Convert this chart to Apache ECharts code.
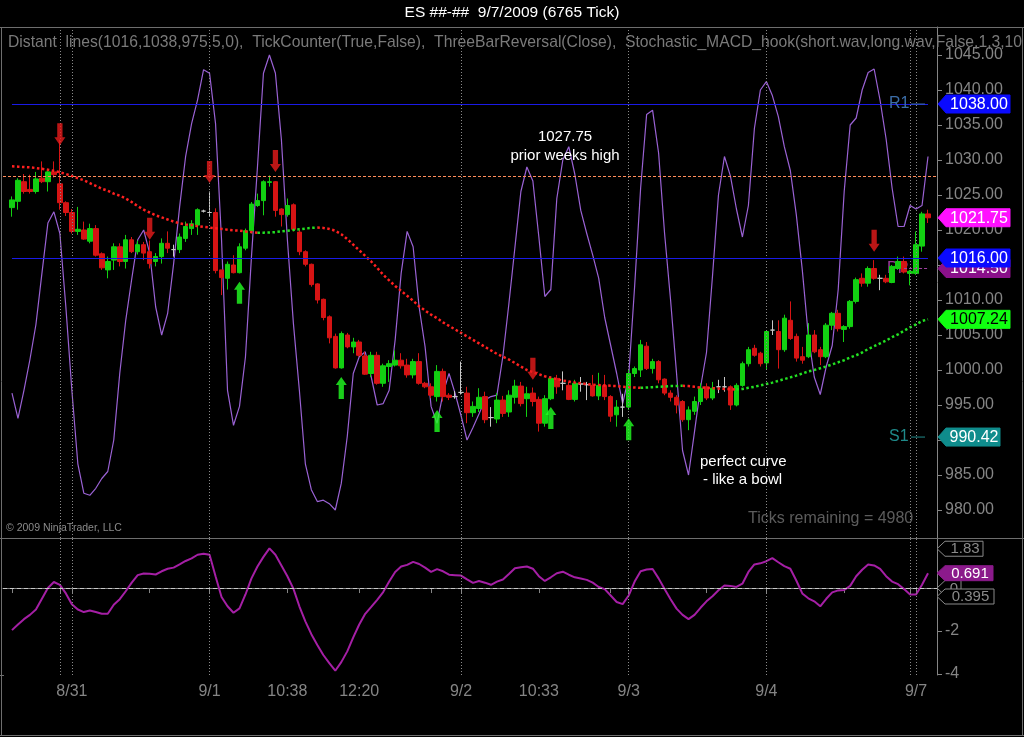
<!DOCTYPE html>
<html>
<head>
<meta charset="utf-8">
<script src="https://cdn.jsdelivr.net/npm/echarts@6/dist/echarts.min.js"></script>
<style>
html,body{margin:0;padding:0;background:#000;overflow:hidden;}
#chart{width:1024px;height:737px;}
</style>
</head>
<body>
<div id="chart"></div>
<script>
const FONT = "'Liberation Sans', Arial, sans-serif";
const SLOT_COUNT = 156;

// candles: [open, close, low, high], slots 1..154
const candles = [
[1023.2,1024.3,1021.9,1024.8],[1024.1,1027.1,1022.9,1027.4],[1026.9,1025.5,1025.2,1028.0],[1025.8,1025.5,1025.2,1027.9],
[1025.5,1027.3,1025.2,1028.3],[1027.4,1026.9,1026.7,1029.8],[1026.9,1028.3,1025.5,1028.6],[1028.3,1027.9,1027.5,1029.8],
[1026.6,1023.9,1022.9,1032.9],[1023.9,1022.5,1022.0,1024.1],[1022.5,1019.8,1019.5,1023.0],[1019.8,1020.1,1019.3,1023.3],
[1020.0,1018.7,1018.6,1021.2],[1018.4,1020.2,1018.1,1020.9],[1020.2,1016.4,1016.2,1020.7],[1016.6,1014.6,1014.3,1016.8],
[1014.3,1015.5,1013.1,1016.2],[1015.7,1017.6,1014.3,1018.1],[1017.6,1015.5,1014.8,1018.1],[1015.5,1018.6,1014.5,1019.3],
[1018.6,1016.9,1016.7,1019.0],[1016.9,1017.9,1016.5,1018.5],[1017.9,1016.7,1015.7,1018.3],[1016.9,1015.2,1014.5,1018.5],
[1015.5,1016.2,1014.8,1016.7],[1016.2,1018.1,1015.2,1018.8],[1018.1,1017.4,1016.7,1019.8],[1017.2,1017.2,1016.2,1017.9],
[1017.2,1019.0,1016.7,1019.5],[1018.8,1020.5,1018.3,1021.2],[1020.2,1020.9,1019.3,1021.4],[1020.7,1022.9,1019.3,1023.1],
[1022.7,1022.7,1022.5,1022.9],[1022.5,1022.5,1022.0,1025.5],[1022.5,1014.2,1013.8,1023.1],[1014.3,1013.2,1010.7,1014.3],
[1013.1,1015.1,1011.5,1015.5],[1015.0,1013.9,1013.8,1016.4],[1013.9,1017.6,1013.8,1018.1],[1017.4,1019.9,1017.1,1020.2],
[1019.9,1023.7,1019.5,1024.0],[1023.5,1024.2,1023.3,1025.2],[1024.2,1026.9,1022.1,1027.1],[1026.8,1026.9,1026.2,1027.8],
[1026.9,1022.8,1021.9,1027.0],[1023.0,1022.2,1020.5,1023.1],[1022.2,1023.5,1021.9,1024.5],[1023.6,1020.1,1019.8,1023.8],
[1019.7,1016.9,1016.4,1020.0],[1016.9,1015.1,1014.8,1017.1],[1015.1,1012.2,1011.9,1015.2],[1012.3,1010.0,1009.5,1012.4],
[1010.1,1007.5,1007.1,1010.2],[1007.6,1004.6,1003.8,1007.8],[1004.8,1000.3,1000.2,1005.2],[1000.3,1005.2,1000.2,1005.5],
[1005.0,1003.3,1003.1,1005.3],[1003.3,1004.0,1002.4,1004.6],[1004.0,1002.1,1001.9,1004.3],[1002.0,999.4,999.3,1002.6],
[999.5,1002.1,999.0,1002.6],[1002.1,998.1,997.9,1002.6],[998.1,1000.6,997.6,1000.9],[1000.5,1000.9,998.3,1001.4],
[1000.7,1001.4,1000.5,1002.8],[1001.4,1000.6,1000.2,1002.4],[1000.7,999.3,998.9,1001.6],[999.3,1001.2,998.8,1001.6],
[1001.2,998.1,997.9,1002.4],[998.1,997.6,997.4,998.3],[997.6,996.4,996.0,998.1],[996.2,999.8,995.5,1000.7],
[999.8,996.2,995.5,1000.2],[996.4,996.1,995.7,996.7],[996.2,996.2,995.9,997.0],[996.8,996.8,996.5,1001.2],
[996.7,993.9,992.4,997.6],[993.9,994.8,993.3,995.5],[994.5,996.1,994.0,997.4],[996.2,992.9,992.4,996.9],
[993.2,993.2,991.9,994.7],[993.0,995.7,992.4,996.7],[995.7,993.8,993.3,996.3],[994.0,996.4,993.3,997.1],
[996.1,997.7,995.2,998.6],[997.7,995.2,994.8,998.3],[995.9,996.6,993.3,997.6],[996.7,995.5,994.8,997.5],
[995.8,992.4,991.2,996.2],[992.4,995.9,991.9,996.4],[995.9,998.8,995.7,999.1],[998.8,997.6,996.6,999.3],
[998.1,998.1,997.1,999.8],[997.8,995.8,995.7,998.3],[995.8,998.1,995.5,998.6],[998.0,998.0,996.9,999.0],
[997.9,997.9,995.7,998.3],[997.8,996.3,996.2,999.3],[996.3,997.8,995.7,999.6],[997.8,996.2,995.7,999.3],
[996.2,993.4,992.6,996.4],[993.6,994.7,991.9,995.7],[994.7,994.7,993.3,996.6],[994.7,999.5,994.3,1000.0],
[999.5,1000.2,999.0,1000.5],[1000.0,1003.6,999.0,1004.3],[1003.4,1000.2,1000.0,1004.0],[1000.2,1001.2,999.5,1001.6],
[1001.2,998.6,998.1,1001.4],[998.7,996.7,996.4,998.8],[996.7,996.1,995.5,997.1],[996.1,995.0,993.8,996.4],
[995.5,992.9,992.6,995.7],[992.9,994.3,991.4,994.8],[994.1,995.5,993.6,996.2],[995.5,997.4,995.0,998.1],
[997.6,996.0,995.7,998.1],[996.0,997.4,995.7,998.3],[997.6,997.6,996.7,998.6],[997.6,997.6,996.9,999.0],
[997.6,995.0,994.3,997.8],[995.0,997.8,994.8,998.1],[997.8,1000.9,997.6,1001.2],[1000.9,1002.9,1000.5,1003.3],
[1003.1,1002.1,1001.9,1003.6],[1002.4,1000.9,1000.5,1002.6],[1001.0,1005.5,1000.0,1005.7],[1005.7,1005.7,1005.0,1007.1],
[1005.5,1002.9,1000.2,1007.1],[1002.9,1007.4,1002.6,1007.9],[1007.1,1004.5,1004.3,1009.8],[1004.8,1001.7,1001.2,1005.2],
[1001.9,1001.4,1000.9,1003.3],[1001.9,1005.0,1001.7,1006.7],[1005.0,1002.6,1002.4,1005.7],[1002.9,1001.9,1000.7,1003.3],
[1001.9,1006.4,1001.7,1006.7],[1006.4,1008.1,1005.7,1008.3],[1008.1,1005.9,1005.5,1008.6],[1005.8,1006.2,1004.0,1006.4],
[1006.2,1009.8,1005.9,1010.0],[1009.8,1012.9,1009.5,1013.2],[1013.1,1012.4,1011.9,1013.8],[1012.4,1014.5,1011.9,1014.8],
[1014.5,1013.1,1012.9,1015.7],[1013.1,1013.1,1011.4,1013.6],[1013.1,1012.6,1012.4,1013.6],[1012.5,1014.8,1012.4,1015.0],
[1014.5,1015.5,1014.3,1016.2],[1015.5,1014.0,1013.8,1016.2],[1013.8,1014.1,1012.1,1014.3],[1013.8,1017.9,1013.6,1019.8],
[1017.7,1022.3,1016.9,1022.6],[1022.3,1021.75,1021.0,1022.9]
];

// moving average (dotted), slots 1..154
const ma = [
1029.1,1029.05,1029.0,1028.95,1028.85,1028.75,1028.6,1028.45,1028.25,1028.0,
1027.7,1027.4,1027.1,1026.7,1026.3,1025.9,1025.6,1025.2,1024.9,1024.5,
1024.0,1023.4,1022.9,1022.5,1022.1,1021.8,1021.5,1021.2,1020.95,1020.8,
1020.7,1020.55,1020.45,1020.35,1020.25,1020.15,1020.05,1019.95,1019.9,1019.8,
1019.7,1019.6,1019.62,1019.65,1019.7,1019.8,1019.9,1020.0,1020.1,1020.2,
1020.3,1020.35,1020.3,1020.15,1019.9,1019.4,1018.7,1017.9,1017.1,1016.3,
1015.5,1014.6,1013.6,1012.8,1012.0,1011.3,1010.6,1009.9,1009.1,1008.5,
1007.9,1007.4,1006.8,1006.3,1005.8,1005.3,1004.8,1004.3,1003.8,1003.3,
1002.8,1002.3,1001.9,1001.5,1001.0,1000.5,1000.0,999.7,999.4,999.1,
998.9,998.7,998.5,998.35,998.2,998.1,998.0,997.9,997.85,997.8,
997.75,997.7,997.6,997.55,997.5,997.45,997.5,997.55,997.6,997.65,
997.7,997.72,997.75,997.7,997.6,997.5,997.45,997.4,997.35,997.3,
997.25,997.2,997.3,997.45,997.6,997.8,998.0,998.2,998.45,998.7,
998.95,999.2,999.5,999.8,1000.0,1000.25,1000.5,1000.8,1001.1,1001.4,
1001.8,1002.1,1002.5,1003.0,1003.4,1003.8,1004.2,1004.7,1005.1,1005.6,
1006.1,1006.5,1007.0,1007.24
];

// stochastic oscillator drawn on the price scale, slots 1..154
const stoch = [
996.7,993.1,997.1,1001.5,1006.5,1013.8,1021.0,1022.6,1019.5,1009.0,
997.1,986.6,982.4,982.1,983.1,984.5,985.5,990.0,999.5,1007.1,
1013.0,1018.6,1020.0,1016.7,1009.0,1005.0,1008.1,1015.2,1023.3,1030.5,
1035.2,1038.6,1042.9,1042.4,1035.2,1018.6,997.1,992.1,994.8,1001.9,
1016.2,1029.0,1042.4,1045.0,1042.4,1032.9,1018.6,1006.7,997.1,986.6,
982.9,981.2,981.4,980.9,980.0,983.8,990.5,999.5,1001.9,1002.6,
999.0,995.0,995.2,997.1,1004.3,1013.8,1019.8,1017.6,1009.0,1003.3,
994.8,992.4,996.7,999.5,996.7,993.5,990.0,991.8,993.7,995.7,
996.2,996.4,1002.0,1009.5,1017.5,1025.5,1029.0,1027.0,1019.0,1010.5,
1011.5,1024.5,1030.0,1031.9,1028.0,1022.8,1019.5,1016.4,1013.1,1007.5,
1003.5,999.5,995.2,999.0,1012.0,1026.0,1036.5,1037.1,1031.0,1019.5,
1010.0,999.5,988.5,985.0,991.2,997.5,1002.5,1013.4,1025.0,1030.5,
1027.7,1023.0,1019.0,1023.5,1034.5,1040.0,1041.2,1039.2,1036.2,1031.9,
1028.5,1022.2,1014.3,1005.0,999.0,996.5,1000.5,1003.5,1011.5,1025.5,
1035.0,1036.0,1040.0,1042.5,1043.0,1038.5,1033.0,1026.0,1020.5,1020.5,
1023.5,1023.0,1023.5,1030.5
];

// Stochastic_MACD_hook (lower panel), slots 1..154
const hook = [
-1.96,-1.70,-1.45,-1.25,-1.00,-0.50,0.00,0.28,0.15,-0.25,
-0.75,-1.00,-1.12,-1.05,-1.12,-1.20,-1.20,-0.78,-0.52,-0.15,
0.25,0.60,0.68,0.67,0.63,0.78,0.90,0.95,1.10,1.26,
1.38,1.55,1.60,1.55,0.55,-0.42,-0.85,-1.15,-0.95,-0.30,
0.45,1.00,1.45,1.85,1.55,1.05,0.55,-0.03,-0.85,-1.55,
-2.15,-2.65,-3.12,-3.50,-3.85,-3.45,-2.95,-2.30,-1.70,-1.20,
-0.88,-0.55,-0.19,0.30,0.75,1.00,1.08,1.22,1.12,0.95,
0.75,0.88,0.78,0.62,0.60,0.58,0.40,0.24,0.33,0.25,
0.15,0.30,0.40,0.65,0.92,0.97,1.00,0.90,0.55,0.33,
0.50,0.69,0.76,0.62,0.50,0.44,0.38,0.25,0.05,-0.05,
-0.35,-0.65,-0.75,-0.35,0.30,0.78,0.86,0.89,0.45,-0.05,
-0.52,-0.96,-1.25,-1.45,-1.25,-0.92,-0.62,-0.38,-0.10,0.12,
0.10,0.05,0.20,0.75,1.10,1.15,1.25,1.39,1.20,1.02,
0.90,0.35,-0.25,-0.48,-0.62,-0.85,-0.50,-0.20,-0.11,-0.09,
0.10,0.55,0.85,1.10,1.05,0.89,0.55,0.30,0.18,-0.05,
-0.30,-0.30,0.15,0.691
];

// ThreeBarReversal signals: slot and arrow tip price
const downArrowSlots = [9, 24, 34, 45, 88, 145];
const downArrowTips = [1032.1, 1018.6, 1026.7, 1028.3, 998.6, 1016.9];
const upArrowSlots = [39, 56, 72, 91, 104];
const upArrowTips = [1012.6, 999.0, 994.3, 994.7, 993.1];

// axis ticks / labels
const priceTicks = [980,985,990,995,1000,1005,1010,1015,1020,1025,1030,1035,1040,1045];
const oscTicks = [-4, -2];
const tickSlots = [1,9,11,24,34,47,59,71,76,89,101,104,117,127,140,151,152];
const labelSlots = [11,34,47,59,76,89,104,127,152];
const labelTexts = ['8/31','9/1','10:38','12:20','9/2','10:33','9/3','9/4','9/7'];
const sessionSlots = [9,11,34,76,104,127,151,152];

// levels
const priorWeekHigh = 1027.75;
const r1Level = 1038.00;
const distantLevel = 1016.00;
const pivotLevel = 1014.50;
const s1Level = 990.42;

const mainFlags = [
  {v:1038.00, text:'1038.00', fill:'#0a0aff', color:'#ffffff', w:72},
  {v:990.42, text:'990.42', fill:'#0f8c8c', color:'#ffffff', w:62},
  {v:1007.24, text:'1007.24', fill:'#10ff10', color:'#000000', w:72},
  {v:1014.50, text:'1014.50', fill:'#8a108a', color:'#ffffff', w:72},
  {v:1016.00, text:'1016.00', fill:'#0a0aff', color:'#ffffff', w:72},
  {v:1021.75, text:'1021.75', fill:'#ff10ff', color:'#ffffff', w:72}
];
const oscFlags = [
  {v:1.83, text:'1.83', fill:'#000', stroke:'#8a8a8a', color:'#8a8a8a', w:46},
  {v:0, text:'0', fill:'#000', stroke:'#8a8a8a', color:'#8a8a8a', w:24},
  {v:-0.395, text:'0.395', fill:'#000', stroke:'#8a8a8a', color:'#8a8a8a', w:57},
  {v:0.691, text:'0.691', fill:'#8b1a8b', stroke:'#8b1a8b', color:'#ffffff', w:56}
];

// ---------- build ----------
const cats = Array.from({length: SLOT_COUNT}, (_, i) => 's' + i);
const labelMap = {};
labelSlots.forEach((s, i) => { labelMap[s] = labelTexts[i]; });
const tickSet = new Set(tickSlots);
const pad = arr => ['-'].concat(arr.map(v => (v === null ? '-' : v))).concat(['-']);

const maRed = ma.map(() => null), maGreen = ma.map(() => null);
for (let i = 1; i < ma.length; i++) {
  const t = ma[i] > ma[i - 1] ? maGreen : maRed;
  t[i - 1] = ma[i - 1]; t[i] = ma[i];
}
const downData = downArrowSlots.map((s, i) => [s, downArrowTips[i]]);
const upData = upArrowSlots.map((s, i) => [s, upArrowTips[i]]);

const gray = '#858585';
const sessionLines = sessionSlots.map(s => ({xAxis: s, lineStyle: {type: [1, 2], color: '#8a8a8a', width: 1}}));

const option = {
  backgroundColor: '#000',
  animation: false,
  grid: [
    {left: 3, right: 87, top: 27, height: 511},
    {left: 3, right: 87, top: 538, height: 137}
  ],
  xAxis: [
    {type: 'category', gridIndex: 0, data: cats, boundaryGap: true, show: false},
    {type: 'category', gridIndex: 1, data: cats, boundaryGap: true,
     axisLine: {show: true, lineStyle: {color: gray}},
     axisTick: {show: true, alignWithLabel: true, length: 5, lineStyle: {color: gray},
       interval: (i) => tickSet.has(i)},
     axisLabel: {show: true, color: gray, fontSize: 16, fontFamily: FONT, margin: 9,
       interval: (i) => labelMap[i] !== undefined,
       formatter: (v, i) => labelMap[i] || ''},
     splitLine: {show: false}}
  ],
  yAxis: [
    {type: 'value', gridIndex: 0, position: 'right', min: 976, max: 1049, scale: true,
     axisLine: {show: true, lineStyle: {color: gray}},
     axisTick: {show: true, length: 5, lineStyle: {color: gray}, customValues: priceTicks},
     axisLabel: {show: true, color: gray, fontSize: 16, fontFamily: FONT, margin: 8,
       customValues: priceTicks, formatter: v => Number(v).toFixed(2)},
     splitLine: {show: false}},
    {type: 'value', gridIndex: 1, position: 'right', min: -4.05, max: 2.33,
     axisLine: {show: true, lineStyle: {color: gray}},
     axisTick: {show: true, length: 5, lineStyle: {color: gray}, customValues: oscTicks},
     axisLabel: {show: true, color: gray, fontSize: 16, fontFamily: FONT, margin: 8,
       customValues: oscTicks, formatter: v => String(v)},
     splitLine: {show: false}}
  ],
  series: [
    {name: 'stoch', type: 'line', xAxisIndex: 0, yAxisIndex: 0, data: pad(stoch),
     showSymbol: false, symbol: 'none', z: 1,
     lineStyle: {color: '#9a62d4', width: 1.2}},
    {name: 'ES', type: 'candlestick', xAxisIndex: 0, yAxisIndex: 0, data: pad(candles),
     barWidth: 5, z: 3,
     itemStyle: {color: '#12d012', color0: '#d61414', borderColor: '#12d012', borderColor0: '#d61414',
       borderColorDoji: '#c8c8c8', borderWidth: 1},
     markLine: {silent: true, symbol: ['none', 'none'], label: {show: false}, animation: false,
       data: sessionLines.concat([
         {yAxis: priorWeekHigh, lineStyle: {type: [3, 2], color: '#ff8c5a', width: 1}},
         [{coord: [1, r1Level], lineStyle: {type: 'solid', color: '#1a1ae6', width: 1}}, {coord: [154, r1Level]}],
         [{coord: [1, distantLevel], lineStyle: {type: 'solid', color: '#1a1ae6', width: 1}}, {coord: [154, distantLevel]}],
         [{coord: [150, pivotLevel], lineStyle: {type: [3, 2], color: '#a040a0', width: 1}}, {coord: [154, pivotLevel]}]
       ])}},
    {name: 'maDown', type: 'line', xAxisIndex: 0, yAxisIndex: 0, data: pad(maRed),
     showSymbol: false, symbol: 'none', connectNulls: false, z: 4,
     lineStyle: {color: '#ff2020', width: 2.5, type: [2.5, 2.5], cap: 'butt'}},
    {name: 'maUp', type: 'line', xAxisIndex: 0, yAxisIndex: 0, data: pad(maGreen),
     showSymbol: false, symbol: 'none', connectNulls: false, z: 4,
     lineStyle: {color: '#22e022', width: 2.5, type: [2.5, 2.5], cap: 'butt'}},
    {name: 'down', type: 'scatter', xAxisIndex: 0, yAxisIndex: 0, data: downData, z: 5,
     symbol: 'path://M2.6,0 L7.4,0 L7.4,14 L10,14 L5,22 L0,14 L2.6,14 Z', symbolKeepAspect: false,
     symbolSize: [11, 22], symbolOffset: [0, -11], itemStyle: {color: '#e81c1c'}},
    {name: 'up', type: 'scatter', xAxisIndex: 0, yAxisIndex: 0, data: upData, z: 5,
     symbol: 'path://M5,0 L10,8 L7.4,8 L7.4,22 L2.6,22 L2.6,8 L0,8 Z', symbolKeepAspect: false,
     symbolSize: [11, 22], symbolOffset: [0, 11], itemStyle: {color: '#22ff22'}},
    {name: 'hook', type: 'line', xAxisIndex: 1, yAxisIndex: 1, data: pad(hook),
     showSymbol: false, symbol: 'none', z: 3,
     lineStyle: {color: '#a51fa5', width: 2},
     markLine: {silent: true, symbol: ['none', 'none'], label: {show: false}, animation: false,
       data: sessionLines.concat([
         {yAxis: 0, lineStyle: {type: [4, 3], color: '#c8c8c8', width: 1}}
       ])}}
  ]
};

const chart = echarts.init(document.getElementById('chart'), null, {renderer: 'canvas'});
chart.setOption(option);

const yMain = v => chart.convertToPixel({yAxisIndex: 0}, v);
const yOsc = v => chart.convertToPixel({yAxisIndex: 1}, v);

const g = [];
let z = 100;
function txt(x, y, text, color, size, align, extra) {
  g.push(Object.assign({type: 'text', x: x, y: y, z: z++, silent: true,
    style: {text: text, fill: color, font: size + 'px ' + FONT, align: align || 'left', verticalAlign: 'middle'}}, extra || {}));
}
function line(x1, y1, x2, y2, color, w) {
  g.push({type: 'line', z: z++, silent: true, shape: {x1: x1, y1: y1, x2: x2, y2: y2},
    style: {stroke: color, lineWidth: w || 1}});
}
function flag(x0, y, w, h, fill, stroke, text, color, size) {
  g.push({type: 'polygon', z: z++, silent: true,
    shape: {points: [[x0, y], [x0 + 8, y - h / 2], [x0 + w, y - h / 2], [x0 + w, y + h / 2], [x0 + 8, y + h / 2]]},
    style: {fill: fill, stroke: stroke || fill, lineWidth: 1}});
  txt(x0 + 8 + (w - 8) / 2 + 1, y + 0.5, text, color, size, 'center');
}

// frame
line(0, 27.5, 1024, 27.5, '#6e6e6e');
line(0, 538.5, 1024, 538.5, '#6e6e6e');
line(1.5, 27, 1.5, 736, '#6e6e6e');
line(1022.5, 27, 1022.5, 736, '#6e6e6e');
line(0, 735.5, 1024, 735.5, '#6e6e6e');
line(0, 675.5, 4, 675.5, '#6e6e6e');

// texts
txt(512, 13, 'ES ##-##  9/7/2009 (6765 Tick)', '#ffffff', 15.5, 'center');
txt(8, 43, 'Distant  lines(1016,1038,975.5,0),  TickCounter(True,False),  ThreeBarReversal(Close),  Stochastic_MACD_hook(short.wav,long.wav,False,1,3,10', '#7a7a7a', 15.7);
txt(6, 528, '\u00a9 2009 NinjaTrader, LLC', '#8a8a8a', 10.5);
txt(748, 519, 'Ticks remaining = 4980', '#5c5c5c', 16);
txt(565, 137, '1027.75', '#ffffff', 15, 'center');
txt(565, 156, 'prior weeks high', '#ffffff', 15, 'center');
txt(700, 462, 'perfect curve', '#ffffff', 15);
txt(703, 480, '- like a bowl', '#ffffff', 15);

// level labels
const yR1 = yMain(r1Level), yS1 = yMain(s1Level), yPP = yMain(pivotLevel);
txt(889, yR1, 'R1', '#3c6ea8', 16);
line(911, yR1, 925, yR1, '#3c6ea8');
txt(889, yS1, 'S1', '#1f8a8a', 16);
line(911, yS1, 925, yS1, '#1f8a8a');
g.push({type: 'text', x: 887, y: yPP, z: 1, silent: true,
  style: {text: 'PP', fill: '#9a3a9a', font: '16px ' + FONT, align: 'left', verticalAlign: 'middle'}});

// flags
mainFlags.forEach(f => flag(938, yMain(f.v), f.w, 18, f.fill, f.fill, f.text, f.color, 16));
oscFlags.forEach(f => flag(937, yOsc(f.v), f.w, 15, f.fill, f.stroke, f.text, f.color, 15));

chart.setOption({graphic: {elements: g}});
</script>
</body>
</html>
